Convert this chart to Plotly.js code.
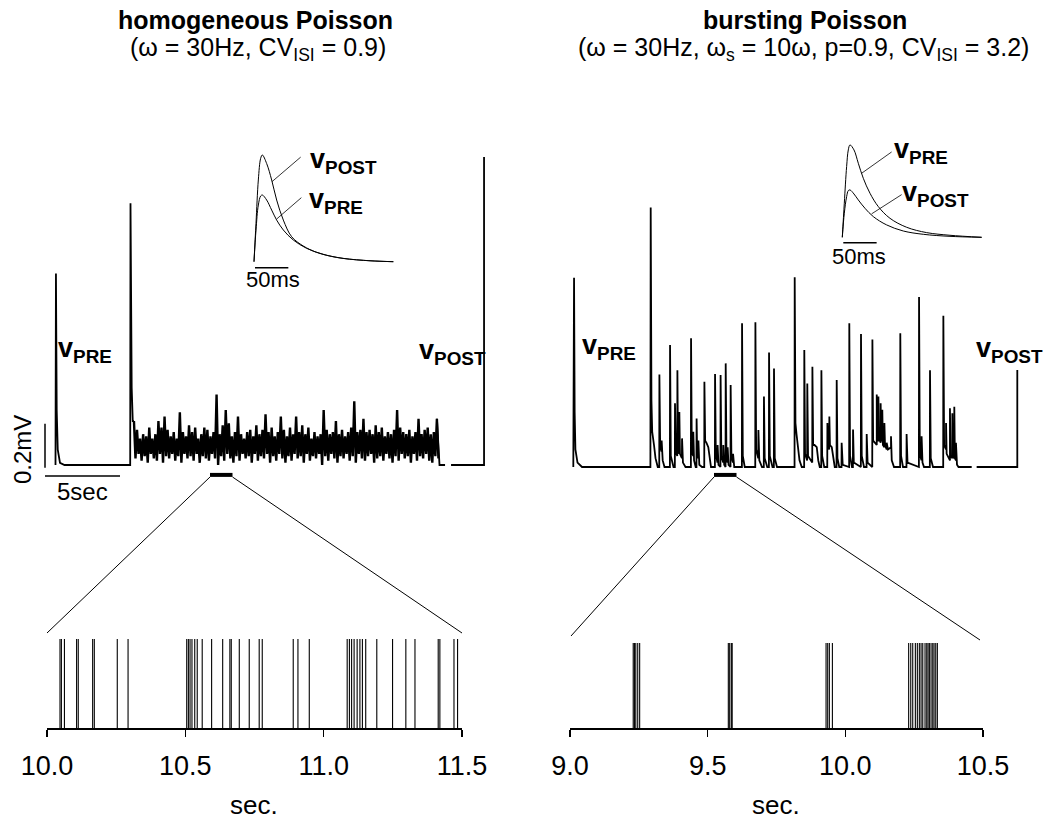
<!DOCTYPE html>
<html><head><meta charset="utf-8">
<script src="https://cdn.plot.ly/plotly-3.0.1.min.js"></script>
<style>html,body{margin:0;padding:0;background:#fff}#plot{width:1052px;height:823px}</style>
</head><body><div id="plot"></div>
<script>
// ---------------- DATA ----------------
// Homogeneous Poisson: composite trace (time s, voltage mV)
const leftPreT  = [-0.30,-0.27,-0.22,-0.15,0.0,0.3,4.68,4.70,4.78,4.85,4.93];
const leftPreV  = [0,0.87,0.25,0.07,0.01,0,0,1.19,0.35,0.20,0.20];
const noiseT0 = 4.93, noiseDt = 0.204;
const noiseHi = [0.20,0.16,0.12,0.14,0.13,0.17,0.12,0.14,0.20,0.17,
 0.22,0.16,0.13,0.15,0.12,0.24,0.15,0.13,0.18,0.15,
 0.17,0.12,0.14,0.17,0.16,0.13,0.15,0.32,0.14,0.18,
 0.25,0.19,0.13,0.15,0.22,0.14,0.12,0.15,0.16,0.13,
 0.18,0.14,0.16,0.23,0.15,0.17,0.13,0.15,0.22,0.16,
 0.13,0.17,0.14,0.22,0.15,0.18,0.14,0.17,0.12,0.15,
 0.13,0.14,0.25,0.16,0.14,0.15,0.20,0.14,0.16,0.13,
 0.15,0.17,0.29,0.15,0.16,0.21,0.15,0.16,0.14,0.18,
 0.15,0.17,0.13,0.15,0.14,0.16,0.25,0.17,0.15,0.14,
 0.16,0.13,0.15,0.21,0.14,0.16,0.17,0.14,0.15,0.21];
const noiseLo = [0.03,0.05,0.02,0.04,0.01,0.05,0.03,0.02,0.05,0.01,
 0.04,0.03,0.05,0.02,0.04,0.01,0.05,0.03,0.04,0.02,
 0.05,0.01,0.04,0.03,0.02,0.05,0.03,0.00,0.04,0.02,
 0.05,0.03,0.01,0.04,0.02,0.05,0.03,0.04,0.01,0.05,
 0.02,0.04,0.03,0.05,0.01,0.04,0.02,0.05,0.03,0.01,
 0.04,0.02,0.05,0.03,0.04,0.01,0.05,0.02,0.04,0.03,
 0.05,0.00,0.04,0.02,0.05,0.03,0.01,0.04,0.03,0.05,
 0.02,0.04,0.01,0.05,0.03,0.02,0.04,0.05,0.01,0.03,
 0.04,0.02,0.05,0.03,0.01,0.04,0.02,0.05,0.03,0.04,
 0.01,0.05,0.02,0.04,0.03,0.05,0.02,0.01,0.04,0.03];
const leftPostT = [25.13,25.25,25.30,25.67,null,26.07,28.27,28.27];
const leftPostV = [0.21,0.02,0,0,null,0,0,1.40];

// Bursting Poisson: composite trace (time s, voltage mV)
const rightT = [-0.38,-0.33,-0.29,-0.24,-0.1,0.2,4.76,4.78,4.83,4.88,5.0,5.1,5.25,
 5.35,5.36,5.41,5.5,5.51,5.58,5.7,
 6.06,6.07,6.12,6.3,6.39,6.4,6.45,6.55,6.56,6.6,6.68,6.69,6.73,6.86,6.87,6.93,7.1,
 7.46,7.47,7.52,7.61,7.62,7.67,7.78,7.83,7.84,7.88,7.95,7.96,8.02,8.2,
 8.35,8.36,8.41,8.5,8.62,8.7,8.8,
 9.06,9.07,9.12,9.23,9.24,9.3,9.43,9.44,9.49,9.61,9.62,9.68,9.77,9.78,9.83,9.9,9.91,9.97,
 10.1,10.11,10.16,10.26,10.27,10.35,10.86,10.87,10.92,11.05,
 11.75,11.76,11.81,11.95,11.96,12.02,12.2,12.32,12.33,12.38,12.55,12.66,12.67,12.72,12.9,12.99,13.0,13.05,13.2,
 14.37,14.38,14.43,14.5,14.6,14.7,14.85,
 15.01,15.02,15.07,15.21,15.22,15.27,15.55,15.56,15.61,15.7,15.85,15.95,16.05,
 16.15,16.16,16.21,16.35,16.55,16.56,16.6,16.68,16.69,16.73,16.85,16.95,17.05,
 17.17,17.18,17.23,17.35,17.5,17.51,17.58,18.01,18.02,18.07,18.2,18.26,18.27,18.32,
 18.79,18.8,18.85,19.0,19.17,19.18,19.24,19.55,19.56,19.61,
 19.85,19.85,19.89,19.96,19.96,20.0,20.11,20.11,20.15,20.22,20.22,20.26,20.36,20.36,20.4,20.51,20.51,20.6,20.8,20.8,20.85,21.0,
 21.41,21.42,21.47,21.6,21.83,21.84,21.9,22.66,22.67,22.72,22.83,22.84,22.9,23.0,
 23.39,23.4,23.45,23.6,24.28,24.29,24.34,
 24.47,24.47,24.51,24.73,24.73,24.77,24.89,24.89,24.93,25.02,25.02,25.06,25.13,25.13,25.2,25.3,26.18,
 null,26.51,29.22,29.22];
const rightV = [0,0.86,0.25,0.08,0.02,0,0,1.18,0.30,0.16,0.10,0.04,0,
 0,0.42,0.10,0.07,0.12,0.03,0,
 0,0.555,0.05,0,0,0.29,0.07,0.05,0.44,0.08,0.06,0.25,0.06,0.04,0.13,0.02,0,
 0,0.585,0.08,0.05,0.16,0.03,0,0,0.22,0.05,0.04,0.12,0.01,0,
 0,0.388,0.12,0.11,0.09,0.04,0,
 0,0.423,0.06,0.02,0.10,0.01,0,0.418,0.05,0.02,0.10,0.01,0,0.471,0.05,0.02,0.09,0.01,
 0,0.373,0.05,0.02,0.06,0,0,0.653,0.05,0,
 0,0.658,0.08,0.04,0.168,0.03,0,0,0.32,0.04,0,0,0.52,0.05,0,0,0.448,0.04,0,
 0,0.862,0.20,0.15,0.10,0.03,0,
 0,0.532,0.06,0.03,0.38,0.05,0.02,0.456,0.10,0.10,0.09,0.03,0,
 0,0.44,0.05,0,0,0.20,0.09,0.08,0.23,0.10,0.09,0.03,0,
 0,0.395,0.04,0,0,0.11,0.01,0,0.653,0.05,0,0,0.17,0.02,
 0,0.605,0.05,0,0,0.15,0.02,0,0.58,0.12,
 0.10,0.33,0.12,0.12,0.32,0.13,0.11,0.29,0.12,0.12,0.26,0.10,0.09,0.20,0.10,0.08,0.11,0.08,0.09,0.14,0.03,0,
 0,0.608,0.05,0,0,0.15,0.02,0,0.773,0.06,0.03,0.14,0.02,0,
 0,0.44,0.04,0,0,0.688,0.10,
 0.08,0.20,0.06,0.03,0.267,0.05,0.04,0.244,0.05,0.04,0.274,0.04,0.03,0.11,0.01,0,0,
 null,0,0,0.441];

// Insets: single EPSP shapes (time ms, normalised amplitude)
const insetLT = [0,3,6.5,10,12.5,19,26.5,34,44,56.5,74,94,124,164,209];
const insetLPost = [0,0.36,0.766,0.969,1.0,0.92,0.766,0.578,0.39,0.234,0.147,0.0875,0.04,0.0125,0];
const insetLPreT = [0,3,6.5,10,12.5,19,26.5,34,44,59,79,104,134,174,209];
const insetLPre = [0,0.297,0.531,0.616,0.625,0.578,0.484,0.39,0.297,0.203,0.125,0.069,0.031,0.009,0];
const insetRPreT = [0,3,6.5,9,11.5,17.5,24,31.5,41.5,54,71.5,96.5,126.5,161.5,209];
const insetRPre = [0,0.319,0.663,0.819,0.866,0.819,0.694,0.553,0.413,0.288,0.178,0.094,0.044,0.019,0];
const insetRPostT = [0,3,6.5,9,11.5,17.5,24,34,46.5,66.5,91.5,121.5,161.5,209];
const insetRPost = [0,0.225,0.381,0.438,0.444,0.406,0.35,0.272,0.194,0.116,0.059,0.028,0.009,0];

// Spike rasters (s)
const spikesHom = [10.047,10.052,10.063,10.107,10.113,10.165,10.171,10.254,10.293,
 10.505,10.511,10.517,10.524,10.534,10.543,10.561,10.595,10.635,10.661,10.666,10.695,10.731,10.767,10.778,
 10.890,10.907,10.948,11.085,11.093,11.101,11.110,11.121,11.131,11.140,11.152,11.192,11.249,11.297,11.330,
 11.414,11.420,11.471,11.484];
const spikesBurst = [9.2296,9.234,9.239,9.246,9.253,
 9.575,9.580,9.586,9.589,
 9.930,9.936,9.942,9.953,
 10.230,10.2376,10.2448,10.2543,10.2615,10.2688,10.275,10.2812,10.2895,10.2957,10.3004,10.3052,10.3113,10.3175,10.3222,10.3284,10.3342];
const tickValsL = [10.0,10.5,11.0,11.5];
const tickValsR = [9.0,9.5,10.0,10.5];

// ---------------- BUILD ----------------
const W = 1052, H = 823;
const FONT = 'Liberation Sans, Arial, Helvetica, sans-serif';
function xd(a,b){return [a/W,b/W];}
function yd(top,bot){return [1-bot/H,1-top/H];}
function px(x){return x/W;}
function py(y){return 1-y/H;}

const nT = [], nV = [];
for (let i=0;i<noiseHi.length;i++){
  nT.push(noiseT0+i*noiseDt); nV.push(noiseHi[i]);
  nT.push(noiseT0+(i+0.5)*noiseDt); nV.push(noiseLo[i]);
}

function raster(times){
  const x=[],y=[];
  times.forEach(t=>{x.push(t,t,null);y.push(0,1,null);});
  return {x,y};
}
const rL = raster(spikesHom), rR = raster(spikesBurst);

const blk = '#000';
const traces = [
  {x:leftPreT,y:leftPreV,xaxis:'x',yaxis:'y',mode:'lines',line:{color:blk,width:1.8},hoverinfo:'skip'},
  {x:nT,y:nV,xaxis:'x',yaxis:'y',mode:'lines',line:{color:blk,width:2.4},hoverinfo:'skip'},
  {x:leftPostT,y:leftPostV,xaxis:'x',yaxis:'y',mode:'lines',line:{color:blk,width:1.8},connectgaps:false,hoverinfo:'skip'},
  {x:rightT,y:rightV,xaxis:'x2',yaxis:'y2',mode:'lines',line:{color:blk,width:1.8},connectgaps:false,hoverinfo:'skip'},
  {x:insetLT,y:insetLPost,xaxis:'x3',yaxis:'y3',mode:'lines',line:{color:blk,width:1,shape:'spline'},hoverinfo:'skip'},
  {x:insetLPreT,y:insetLPre,xaxis:'x3',yaxis:'y3',mode:'lines',line:{color:blk,width:1,shape:'spline'},hoverinfo:'skip'},
  {x:insetRPreT,y:insetRPre,xaxis:'x4',yaxis:'y4',mode:'lines',line:{color:blk,width:1,shape:'spline'},hoverinfo:'skip'},
  {x:insetRPostT,y:insetRPost,xaxis:'x4',yaxis:'y4',mode:'lines',line:{color:blk,width:1,shape:'spline'},hoverinfo:'skip'},
  {x:rL.x,y:rL.y,xaxis:'x5',yaxis:'y5',mode:'lines',line:{color:blk,width:1.1},connectgaps:false,hoverinfo:'skip'},
  {x:rR.x,y:rR.y,xaxis:'x6',yaxis:'y6',mode:'lines',line:{color:blk,width:1.1},connectgaps:false,hoverinfo:'skip'}
];

const hid = {visible:false,showgrid:false,zeroline:false};
function bottomX(dom,range,vals){
  return {domain:dom,range:range,showline:true,linecolor:blk,linewidth:2,ticks:'outside',ticklen:7,tickwidth:1.2,tickcolor:blk,
    tickvals:vals,ticktext:vals.map(v=>v.toFixed(1)),tickfont:{family:FONT,size:27,color:blk},ticklabelstandoff:6,
    showgrid:false,zeroline:false,fixedrange:true};
}
const layout = {
  width:W,height:H,margin:{l:0,r:0,t:0,b:0},paper_bgcolor:'#fff',plot_bgcolor:'rgba(0,0,0,0)',showlegend:false,
  xaxis:Object.assign({domain:xd(20,520),range:[(20-60)/15,(520-60)/15],anchor:'y'},hid),
  yaxis:Object.assign({domain:yd(120,500),range:[(465-500)/220,(465-120)/220],anchor:'x'},hid),
  xaxis2:Object.assign({domain:xd(540,1050),range:[(540-579)/15,(1050-579)/15],anchor:'y2'},hid),
  yaxis2:Object.assign({domain:yd(120,500),range:[(467-500)/220,(467-120)/220],anchor:'x2'},hid),
  xaxis3:Object.assign({domain:xd(230,420),range:[(230-254)*1.5,(420-254)*1.5],anchor:'y3'},hid),
  yaxis3:Object.assign({domain:yd(130,300),range:[(261.7-300)/106.7,(261.7-130)/106.7],anchor:'x3'},hid),
  xaxis4:Object.assign({domain:xd(820,1000),range:[(820-842.3)*1.5,(1000-842.3)*1.5],anchor:'y4'},hid),
  yaxis4:Object.assign({domain:yd(120,280),range:[(237.3-280)/106.7,(237.3-120)/106.7],anchor:'x4'},hid),
  xaxis5:Object.assign(bottomX(xd(47,462),[10,11.5],tickValsL),{anchor:'y5'}),
  yaxis5:Object.assign({domain:yd(639,728),range:[0,1],anchor:'x5'},hid),
  xaxis6:Object.assign(bottomX(xd(570,983),[9,10.5],tickValsR),{anchor:'y6'}),
  yaxis6:Object.assign({domain:yd(643,728),range:[0,1],anchor:'x6'},hid),
  shapes:[
    // scale bars (top-left trace axes): 0.2 mV and 5 s
    {type:'line',xref:'x',yref:'y',x0:-1,x1:-1,y0:-0.012,y1:0.188,line:{color:blk,width:1.5}},
    {type:'line',xref:'x',yref:'y',x0:-1,x1:4,y0:-0.05,y1:-0.05,line:{color:blk,width:1.5}},
    // zoom brackets
    {type:'line',xref:'x',yref:'y',x0:10,x1:11.5,y0:-0.045,y1:-0.045,line:{color:blk,width:4}},
    {type:'line',xref:'x2',yref:'y2',x0:9,x1:10.5,y0:-0.036,y1:-0.036,line:{color:blk,width:4}},
    // connecting lines
    {type:'line',xref:'paper',yref:'paper',x0:px(210),y0:py(477),x1:px(47),y1:py(633),line:{color:blk,width:1}},
    {type:'line',xref:'paper',yref:'paper',x0:px(232.5),y0:py(477),x1:px(462),y1:py(633),line:{color:blk,width:1}},
    {type:'line',xref:'paper',yref:'paper',x0:px(714),y0:py(477),x1:px(571),y1:py(636),line:{color:blk,width:1}},
    {type:'line',xref:'paper',yref:'paper',x0:px(736.5),y0:py(477),x1:px(980),y1:py(640),line:{color:blk,width:1}},
    // inset 50 ms bars
    {type:'line',xref:'x3',yref:'y3',x0:1.5,x1:51.5,y0:-0.056,y1:-0.056,line:{color:blk,width:1.5}},
    {type:'line',xref:'x4',yref:'y4',x0:1.5,x1:51.5,y0:-0.05,y1:-0.05,line:{color:blk,width:1.5}},
    // inset leader lines
    {type:'line',xref:'x3',yref:'y3',x0:70,y0:0.98,x1:27,y1:0.75,line:{color:blk,width:0.8}},
    {type:'line',xref:'x3',yref:'y3',x0:71,y0:0.60,x1:34,y1:0.40,line:{color:blk,width:0.8}},
    {type:'line',xref:'x4',yref:'y4',x0:74,y0:0.80,x1:29,y1:0.60,line:{color:blk,width:0.8}},
    {type:'line',xref:'x4',yref:'y4',x0:89,y0:0.40,x1:44,y1:0.22,line:{color:blk,width:0.8}}
  ],
  annotations:[]
};
function ann(text,x,y,size,opts){
  layout.annotations.push(Object.assign({text:text,xref:'paper',yref:'paper',x:px(x),y:py(y),showarrow:false,
    xanchor:'center',yanchor:'middle',font:{family:FONT,size:size,color:blk}},opts||{}));
}
ann('<b>homogeneous Poisson</b>',255,20,25);
ann('(ω = 30Hz, CV<sub>ISI</sub> = 0.9)',258,49,25);
ann('<b>bursting Poisson</b>',805,20,25);
ann('(ω = 30Hz, ω<sub>s</sub> = 10ω, p=0.9, CV<sub>ISI</sub> = 3.2)',803,49,25);
ann('0.2mV',22,450,24,{textangle:-90});
ann('5sec',82,492,24);
ann('50ms',272.5,279.5,22);
ann('50ms',859,256.5,22);
ann('sec.',254,805,26);
ann('sec.',776,805,26);
ann('<b>v<sub>POST</sub></b>',308,161,27,{xanchor:'left'});
ann('<b>v<sub>PRE</sub></b>',307,201,27,{xanchor:'left'});
ann('<b>v<sub>PRE</sub></b>',892,151,27,{xanchor:'left'});
ann('<b>v<sub>POST</sub></b>',900,194,27,{xanchor:'left'});
ann('<b>v<sub>PRE</sub></b>',56,350,27,{xanchor:'left'});
ann('<b>v<sub>POST</sub></b>',417,352,27,{xanchor:'left'});
ann('<b>v<sub>PRE</sub></b>',580,347,27,{xanchor:'left'});
ann('<b>v<sub>POST</sub></b>',974,350,27,{xanchor:'left'});

Plotly.newPlot('plot',traces,layout,{displayModeBar:false,staticPlot:true});
</script></body></html>
